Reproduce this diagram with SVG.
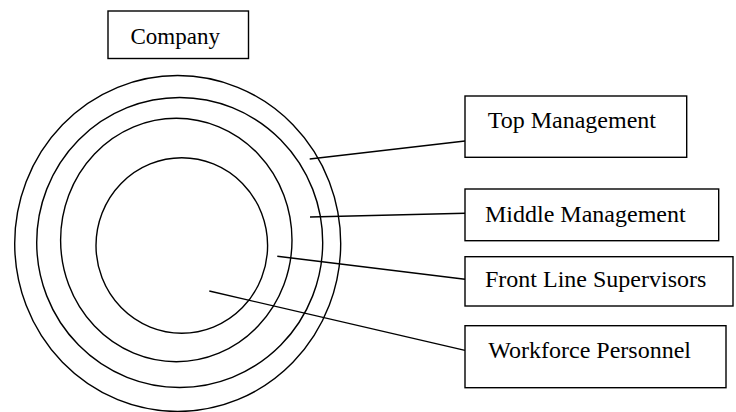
<svg xmlns="http://www.w3.org/2000/svg" width="736" height="412" viewBox="0 0 736 412">
<style>
.box{fill:#fff;stroke:#000;stroke-width:1.4}
.ring{fill:none;stroke:#000;stroke-width:1.4}
.lbl{font-family:"Liberation Serif","Times New Roman",serif;font-size:24px;fill:#000}
.conn line{stroke:#000;stroke-width:1.4}
</style>
<rect width="736" height="412" fill="#fff"/>
<g id="company">
<rect class="box" x="108" y="11" width="140.5" height="47.5"/>
<text class="lbl" x="130.5" y="44.3" style="font-size:23px">Company</text>
</g>
<g id="rings">
<ellipse class="ring" cx="177.7" cy="243.5" rx="163" ry="168"/>
<ellipse class="ring" cx="179.7" cy="242.5" rx="143" ry="145"/>
<ellipse class="ring" cx="176.3" cy="240" rx="115.7" ry="121.7"/>
<ellipse class="ring" cx="181.8" cy="245.5" rx="85.8" ry="87.8"/>
</g>
<g class="conn" id="connectors">
<line x1="309.7" y1="159" x2="465" y2="141"/>
<line x1="310" y1="217" x2="465" y2="213.3"/>
<line x1="277.3" y1="256.3" x2="465" y2="279.3"/>
<line x1="209.3" y1="291" x2="465" y2="350.4"/>
</g>
<g id="top-management">
<rect class="box" x="465" y="96" width="221.7" height="61.3"/>
<text class="lbl" x="487.7" y="128.3">Top Management</text>
</g>
<g id="middle-management">
<rect class="box" x="465" y="189" width="253.7" height="51.7"/>
<text class="lbl" x="485" y="221.7">Middle Management</text>
</g>
<g id="front-line-supervisors">
<rect class="box" x="465" y="256.7" width="268" height="49.3"/>
<text class="lbl" x="485" y="287.3">Front Line Supervisors</text>
</g>
<g id="workforce-personnel">
<rect class="box" x="465" y="325.7" width="261" height="62"/>
<text class="lbl" x="488.3" y="358.3">Workforce Personnel</text>
</g>
</svg>
